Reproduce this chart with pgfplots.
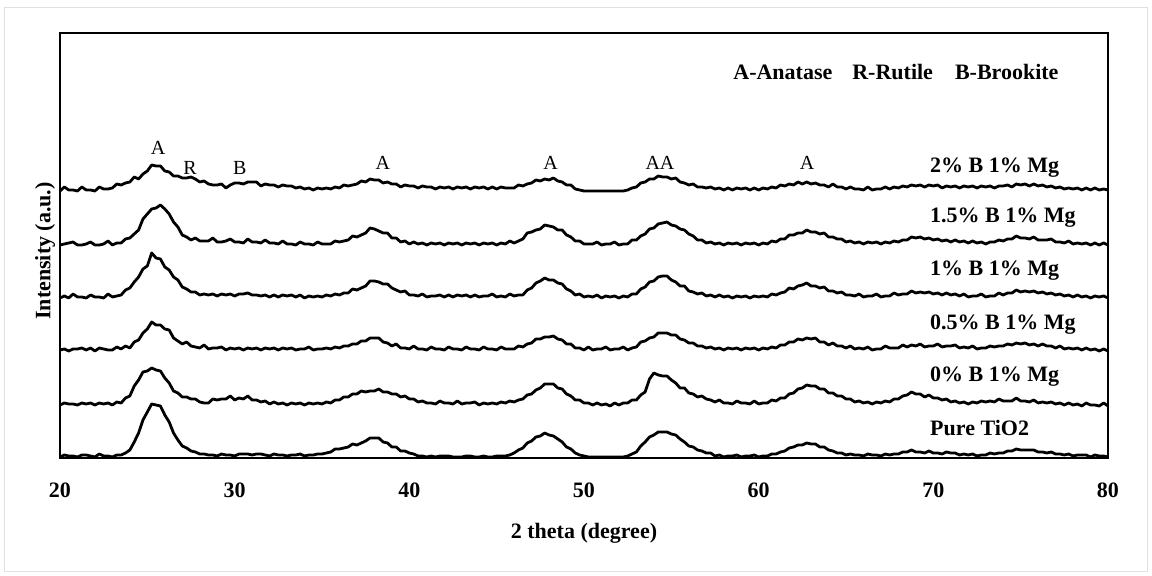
\documentclass[border=0pt]{standalone}
\usepackage{fontspec}
\setmainfont{Liberation Serif}
\usepackage{pgfplots}
\usepackage{pgfplotstable}
\pgfplotsset{compat=1.18}
\pgfplotstableread{
x     a   b   c   d   e   f
20.0  0   1   0   1   1   0
20.25 4   2   2   2   3   2
20.5  1   3   0   0   2   1
20.75 1   4   4   2   2   1
21.0  0   1   1   2   1   0
21.25 4   1   1   3   3   2
21.5  1   2   0   1   2   2
21.75 1   4   3   3   3   1
22.0  0   1   1   0   1   0
22.25 4   1   1   3   3   3
22.5  2   2   0   2   2   1
22.75 2   5   4   1   3   1
23.0  3   1   1   1   1   0
23.25 7   3   2   4   4   2
23.5  6   3   3   2   3   2
23.75 8   7   8   5   8   4
24.0  9   8   10  3   10  7
24.25 14  12  16  9   20  15
24.5  12  16  21  11  26  24
24.75 17  27  29  18  34  37
25.0  20  32  32  22  35  45
25.25 26  37  45  29  38  53
25.5  25  38  40  26  36  52
25.75 25  41  39  26  35  51
26.0  20  37  31  22  28  42
26.25 19  32  28  21  23  35
26.5  15  24  21  13  15  24
26.75 15  19  18  10  13  17
27.0  13  11  11  7   9   11
27.25 13  9   9   9   9   9
27.5  14  6   6   5   7   6
27.75 12  8   6   4   7   5
28.0  9   5   3   3   4   3
28.25 10  5   4   6   3   3
28.5  7   5   3   2   3   2
28.75 6   8   4   3   7   2
29.0  6   4   2   3   6   1
29.25 7   4   4   4   7   3
29.5  3   5   3   1   7   2
29.75 6   7   4   3   10  2
30.0  8   4   2   2   6   1
30.25 8   4   4   3   8   3
30.5  7   3   4   1   7   3
30.75 9   7   5   3   10  3
31.0  9   4   3   2   6   2
31.25 9   4   3   3   6   3
31.5  5   3   2   1   4   3
31.75 7   6   3   3   5   2
32.0  6   3   1   2   2   1
32.25 6   3   3   3   4   3
32.5  4   2   1   1   2   2
32.75 6   5   3   3   3   2
33.0  5   2   2   2   1   1
33.25 5   2   3   3   3   2
33.5  3   1   1   1   2   2
33.75 4   4   3   2   3   3
34.0  2   2   0   2   1   1
34.25 3   2   2   4   3   2
34.5  1   1   1   1   2   2
34.75 3   4   2   2   3   3
35.0  2   2   1   2   2   3
35.25 3   2   3   3   4   4
35.5  2   2   2   2   3   5
35.75 4   5   4   4   6   8
36.0  3   4   3   3   6   8
36.25 6   5   5   5   9   9
36.5  5   6   5   5   9   10
36.75 6   10  9   7   12  13
37.0  7   9   8   7   12  12
37.25 10  11  10  10  15  14
37.5  9   13  12  10  14  16
37.75 12  18  17  13  15  19
38.0  11  17  17  13  15  19
38.25 11  15  16  13  17  19
38.5  8   13  14  9   14  15
38.75 9   13  14  8   14  14
39.0  7   8   10  5   12  10
39.25 7   8   8   7   12  10
39.5  4   4   6   3   9   6
39.75 6   5   7   3   10  6
40.0  5   2   3   2   7   4
40.25 5   4   3   5   7   3
40.5  3   2   2   2   4   1
40.75 5   3   4   2   5   1
41.0  4   1   1   1   3   0
41.25 4   3   2   4   3   1
41.5  2   2   2   2   2   0
41.75 4   3   3   2   5   1
42.0  3   1   1   1   3   1
42.25 4   3   3   4   3   1
42.5  2   2   1   2   2   0
42.75 4   3   3   2   5   0
43.0  3   1   2   1   2   0
43.25 4   3   3   4   3   1
43.5  2   2   1   2   3   1
43.75 4   3   3   2   4   0
44.0  3   1   1   1   1   0
44.25 4   3   2   4   3   1
44.5  2   2   2   2   2   0
44.75 4   3   4   2   3   0
45.0  2   1   1   1   2   1
45.25 4   3   2   4   4   1
45.5  3   2   1   2   3   1
45.75 3   5   4   2   5   2
46.0  3   3   2   2   4   4
46.25 6   5   3   5   6   7
46.5  5   7   3   4   7   9
46.75 7   13  8   7   11  14
47.0  8   14  10  8   12  16
47.25 11  16  15  12  16  20
47.5  10  17  17  12  18  21
47.75 12  21  20  14  22  24
48.0  11  20  18  14  22  22
48.25 13  19  18  15  22  21
48.5  10  16  15  12  18  18
48.75 9   16  14  11  17  15
49.0  6   11  9   7   12  10
49.25 6   9   7   7   10  8
49.5  2   5   3   3   6   4
49.75 1   5   4   3   6   2
50.0  0   2   1   1   3   1
50.25 0   2   2   4   3   0
50.5  0   2   1   1   1   0
50.75 0   4   3   2   3   0
51.0  0   1   0   2   1   0
51.25 0   2   2   4   2   0
51.5  0   2   1   1   0   0
51.75 0   4   2   2   3   0
52.0  0   1   0   2   1   0
52.25 0   2   2   4   3   0
52.5  1   2   1   1   3   1
52.75 3   6   4   3   6   3
53.0  4   6   4   4   6   5
53.25 8   10  9   9   11  11
53.5  9   12  11  10  14  15
53.75 12  17  16  13  27  20
54.0  12  18  17  14  33  22
54.25 15  22  21  18  31  25
54.5  14  23  22  18  30  25
54.75 14  24  22  18  30  25
55.0  12  21  18  16  26  23
55.25 13  20  16  16  23  22
55.5  9   17  12  12  18  18
55.75 8   16  12  11  18  15
56.0  6   12  7   8   13  11
56.25 7   10  6   8   12  10
56.5  4   6   4   5   9   7
56.75 4   6   5   5   10  6
57.0  3   3   2   3   7   4
57.25 4   4   3   4   6   4
57.5  2   2   1   2   4   1
57.75 3   3   3   3   6   2
58.0  1   1   1   1   3   0
58.25 3   3   2   3   3   1
58.5  1   2   0   2   2   1
58.75 3   3   2   3   5   2
59.0  2   1   1   1   3   0
59.25 3   3   2   3   3   1
59.5  1   2   0   2   2   1
59.75 3   3   2   3   5   2
60.0  1   1   1   1   2   0
60.25 3   3   2   3   3   1
60.5  2   2   1   2   3   1
60.75 4   5   4   4   6   3
61.0  3   4   3   3   5   3
61.25 6   7   5   6   8   5
61.5  5   7   6   6   8   6
61.75 7   11  10  9   12  9
62.0  6   11  9   9   13  10
62.25 9   13  12  12  17  12
62.5  7   13  13  11  18  12
62.75 9   16  15  13  21  14
63.0  7   14  12  12  20  13
63.25 8   14  12  13  20  13
63.5  6   12  10  9   17  10
63.75 6   13  11  9   17  10
64.0  4   9   7   6   13  7
64.25 7   9   7   8   13  6
64.5  4   7   5   5   10  4
64.75 4   7   6   5   10  4
65.0  2   4   3   3   7   2
65.25 4   5   3   5   7   3
65.5  2   3   2   2   4   2
65.75 2   4   4   3   5   2
66.0  1   2   1   2   3   1
66.25 4   4   2   4   4   3
66.5  1   3   2   1   2   2
66.75 2   4   4   2   4   2
67.0  2   2   1   2   3   1
67.25 4   4   2   5   5   3
67.5  2   3   2   3   4   2
67.75 4   5   5   3   7   3
68.0  3   4   3   3   7   3
68.25 5   6   4   6   10  5
68.5  4   6   4   4   11  5
68.75 6   9   7   6   14  7
69.0  5   8   5   5   12  5
69.25 6   9   6   7   12  5
69.5  4   7   5   4   9   4
69.75 6   8   6   5   11  6
70.0  5   6   4   5   8   4
70.25 6   7   5   7   8   4
70.5  3   5   3   4   6   3
70.75 5   6   5   5   7   5
71.0  4   4   3   5   4   4
71.25 5   6   4   6   5   4
71.5  3   4   2   3   3   2
71.75 5   5   4   4   4   3
72.0  4   3   1   3   2   2
72.25 5   5   2   5   4   3
72.5  3   3   2   2   3   1
72.75 5   4   4   3   5   2
73.0  4   2   1   3   4   2
73.25 5   4   2   5   5   4
73.5  3   4   2   4   4   3
73.75 5   6   5   5   7   4
74.0  5   5   3   5   5   4
74.25 6   7   5   7   5   6
74.5  4   7   5   6   5   6
74.75 7   10  8   8   8   8
75.0  6   8   6   7   5   7
75.25 7   8   7   8   5   7
75.5  5   7   6   6   4   7
75.75 7   9   7   7   6   7
76.0  5   6   5   5   3   5
76.25 6   6   6   7   4   5
76.5  4   6   4   5   3   4
76.75 5   7   5   5   4   5
77.0  3   4   3   3   2   3
77.25 4   4   4   5   3   3
77.5  2   3   2   2   1   2
77.75 3   5   3   3   3   3
78.0  2   2   1   2   1   1
78.25 3   3   3   3   2   2
78.5  1   2   1   1   0   2
78.75 3   3   2   3   3   2
79.0  1   1   0   1   1   0
79.25 3   3   2   2   1   2
79.5  1   1   1   0   0   1
79.75 2   3   2   2   3   1
80.0  1   1   0   0   0   0
}\xrd
\begin{document}
\begin{tikzpicture}
\path[use as bounding box] (-30pt,-59pt) rectangle (546pt,229pt);
\draw[black!12, line width=0.5pt] (-27.5pt,-57pt) rectangle (543.5pt,225pt);
\begin{axis}[
  at={(0pt,0pt)}, anchor=south west,
  scale only axis, width=524pt, height=212.5pt,
  xmin=20, xmax=80, ymin=0, ymax=425,
  xtick={20,30,...,80}, ytick=\empty,
  major tick length=0pt,
  axis line style={line width=0.9pt},
  clip=false,
  /pgf/number format/assume math mode=true,
  tick label style={font=\fontsize{11}{13}\selectfont\bfseries},
  xticklabel style={yshift=-9pt},
  xlabel={2 theta (degree)},
  ylabel={Intensity (a.u.)},
  label style={font=\fontsize{11}{13}\selectfont\bfseries},
  xlabel style={at={(axis description cs:0.5,-0.1765)}, anchor=center},
  ylabel style={at={(axis description cs:-0.0143,0.487)}, anchor=center},
]
\addplot[black, line width=1.4pt, line join=round] table[x=x, y expr=\thisrow{a}+267] {\xrd};
\addplot[black, line width=1.4pt, line join=round] table[x=x, y expr=\thisrow{b}+212] {\xrd};
\addplot[black, line width=1.4pt, line join=round] table[x=x, y expr=\thisrow{c}+160] {\xrd};
\addplot[black, line width=1.4pt, line join=round] table[x=x, y expr=\thisrow{d}+107] {\xrd};
\addplot[black, line width=1.4pt, line join=round] table[x=x, y expr=\thisrow{e}+52] {\xrd};
\addplot[black, line width=1.4pt, line join=round] table[x=x, y expr=\thisrow{f}+1] {\xrd};

\begin{scope}[every node/.style={font=\fontsize{11}{13}\selectfont\bfseries, anchor=west, inner sep=0pt}]
\node at (axis cs:58.53,386) {A-Anatase\hskip 10pt R-Rutile\hskip 11pt B-Brookite};
\node at (axis cs:69.8,290) {2\% B 1\% Mg};
\node at (axis cs:69.8,240) {1.5\% B 1\% Mg};
\node at (axis cs:69.8,187) {1\% B 1\% Mg};
\node at (axis cs:69.8,133) {0.5\% B 1\% Mg};
\node at (axis cs:69.8,81) {0\% B 1\% Mg};
\node at (axis cs:69.8,30) {Pure TiO2};
\end{scope}
\begin{scope}[every node/.style={font=\fontsize{10}{12}\selectfont, inner sep=0pt}]
\node at (axis cs:25.61,310) {A};
\node at (axis cs:27.44,290) {R};
\node at (axis cs:30.3,290) {B};
\node at (axis cs:38.49,295) {A};
\node at (axis cs:48.09,295) {A};
\node at (axis cs:54.35,295) {AA};
\node at (axis cs:62.77,295) {A};
\end{scope}
\end{axis}
\end{tikzpicture}
\end{document}
